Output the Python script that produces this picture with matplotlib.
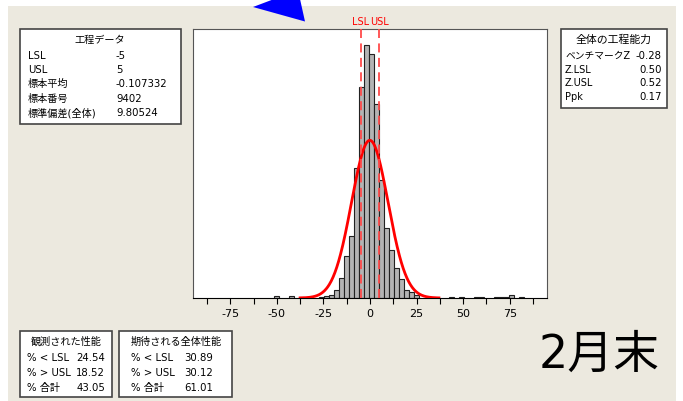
import numpy as np
import matplotlib
matplotlib.use('Agg')
import matplotlib.pyplot as plt
from matplotlib.patches import Rectangle, Polygon

plt.rcParams['font.family'] = ['DejaVu Sans', 'Noto Sans CJK JP']
plt.rcParams['axes.unicode_minus'] = False

W, H = 683, 401

# process data
lsl, usl = -5, 5
mean, sd, n = -0.107332, 9.80524, 9402

# histogram, bins (bin index 0 = tallest bar)
bin_width = 2.68
first_edge = -3.06
bin_index = [-18, -15, -13,
             -9, -8, -7, -6, -5, -4, -3, -2, -1, 0, 1, 2, 3, 4, 5, 6, 7, 8, 9, 10,
             17, 19, 22, 23, 26, 27, 28, 29, 31]
counts = [10, 10, 8,
          6, 13, 20, 52, 130, 273, 403, 845, 1372, 1645, 1586, 1261, 767, 455, 312, 195, 124, 52, 39, 20,
          8, 8, 8, 8, 8, 8, 8, 20, 8]

# boxes
process_title = '工程データ'
process_labels = ['LSL', 'USL', '標本平均', '標本番号', '標準偏差(全体)']
process_values = ['-5', '5', '-0.107332', '9402', '9.80524']

cap_title = '全体の工程能力'
cap_labels = ['ベンチマークZ', 'Z.LSL', 'Z.USL', 'Ppk']
cap_values = ['-0.28', '0.50', '0.52', '0.17']

obs_title = '観測された性能'
exp_title = '期待される全体性能'
perf_labels = ['% < LSL', '% > USL', '% 合計']
obs_values = ['24.54', '18.52', '43.05']
exp_values = ['30.89', '30.12', '61.01']

month_label = '2月末'


def fx(px):
    return px / W


def fy(py):
    return 1 - py / H


bg = '#ECE9DF'
fig = plt.figure(figsize=(W / 100, H / 100), dpi=100, facecolor='white')
fig.add_artist(Rectangle((fx(8), 0), fx(676) - fx(8), fy(6), transform=fig.transFigure,
                         facecolor=bg, edgecolor='none', zorder=0))

# main histogram
ax = fig.add_axes([fx(193), fy(298), fx(547) - fx(193), (298 - 29) / H])
ax.set_facecolor('white')
lefts = [first_edge + bin_width * i for i in bin_index]
ax.bar(lefts, counts, width=bin_width, align='edge', color='#B4B4B4',
       edgecolor='#222222', linewidth=0.8, zorder=2)

xs = np.linspace(-37.5, 37, 300)
ys = n * bin_width * np.exp(-0.5 * ((xs - mean) / sd) ** 2) / (sd * np.sqrt(2 * np.pi))
ax.plot(xs, ys, color='red', linewidth=2, zorder=3)

for v, name in [(lsl, 'LSL'), (usl, 'USL')]:
    ax.axvline(v, color='#FF4A4A', linestyle=(0, (5, 3)), linewidth=1.3, zorder=4)
    ax.text(v, 1.008, name, transform=ax.get_xaxis_transform(), ha='center', va='bottom',
            color='red', fontsize=7)

ax.set_xlim(-95, 95)
ax.set_ylim(0, 269 * 6.5)
ax.set_xticks([-75, -50, -25, 0, 25, 50, 75])
ax.set_xticks(np.arange(-87.5, 88, 12.5), minor=True)
ax.tick_params(axis='x', which='both', length=4, width=0.8, labelsize=8, pad=4)
ax.set_yticks([])
for s in ['top', 'left', 'right']:
    ax.spines[s].set_color('#555555')
    ax.spines[s].set_linewidth(0.8)
ax.spines['bottom'].set_color('black')


def box(x0, y0, x1, y1):
    fig.add_artist(Rectangle((fx(x0), fy(y1)), fx(x1) - fx(x0), (y1 - y0) / H,
                             transform=fig.transFigure, facecolor='white',
                             edgecolor='#444444', linewidth=1.2, zorder=1))


fs = 7.3

# process data box
box(20, 29, 181, 124)
fig.text(fx(100), fy(40), process_title, ha='center', va='center', fontsize=fs)
for i, (lab, val) in enumerate(zip(process_labels, process_values)):
    y = fy(56 + i * 14.2)
    fig.text(fx(28), y, lab, ha='left', va='center', fontsize=fs)
    fig.text(fx(116), y, val, ha='left', va='center', fontsize=fs)

# capability box
box(561, 29, 667, 108)
fig.text(fx(614), fy(40), cap_title, ha='center', va='center', fontsize=fs + 0.5)
for i, (lab, val) in enumerate(zip(cap_labels, cap_values)):
    y = fy(56 + i * 13.6)
    fig.text(fx(565), y, lab, ha='left', va='center', fontsize=fs - 0.3)
    fig.text(fx(662), y, val, ha='right', va='center', fontsize=fs)

# observed performance
box(20, 331, 112, 397)
fig.text(fx(66), fy(342), obs_title, ha='center', va='center', fontsize=fs)
for i, (lab, val) in enumerate(zip(perf_labels, obs_values)):
    y = fy(358 + i * 15)
    fig.text(fx(27), y, lab, ha='left', va='center', fontsize=fs)
    fig.text(fx(105), y, val, ha='right', va='center', fontsize=fs)

# expected performance
box(119, 331, 232, 397)
fig.text(fx(176), fy(342), exp_title, ha='center', va='center', fontsize=fs)
for i, (lab, val) in enumerate(zip(perf_labels, exp_values)):
    y = fy(358 + i * 15)
    fig.text(fx(131), y, lab, ha='left', va='center', fontsize=fs)
    fig.text(fx(184), y, val, ha='left', va='center', fontsize=fs)

fig.text(fx(599), fy(355), month_label, ha='center', va='center', fontsize=33)

# blue pointer
fig.add_artist(Polygon([(fx(253), fy(7)), (fx(305), fy(21.5)), (fx(298), fy(-10))],
                       closed=True, transform=fig.transFigure, facecolor='blue',
                       edgecolor='none', zorder=5))

fig.savefig('out.png', dpi=100, facecolor=fig.get_facecolor())
